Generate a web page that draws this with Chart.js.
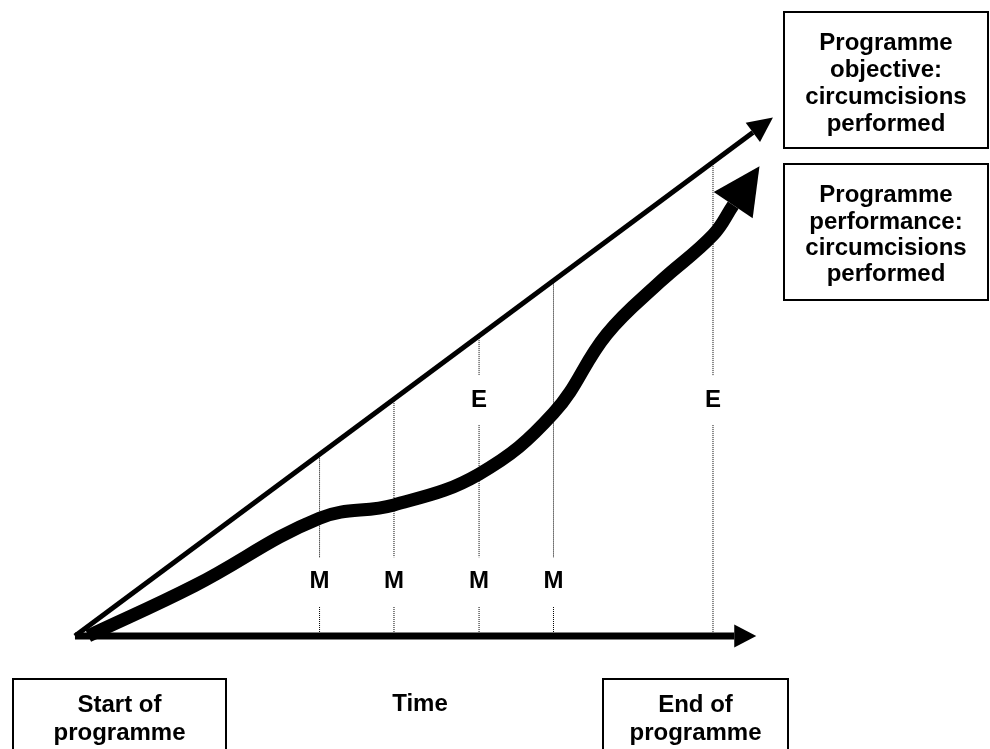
<!DOCTYPE html>
<html>
<head>
<meta charset="utf-8">
<script src="https://cdn.jsdelivr.net/npm/chart.js@4/dist/chart.umd.min.js"></script>
<style>
  html, body { margin: 0; padding: 0; background: #fff; }
  #wrap { width: 990px; height: 749px; }
</style>
</head>
<body>
<div id="wrap"><canvas id="chart" width="990" height="749"></canvas></div>
<script>
// Time in months, output as % of the objective reached at end of programme
const objectiveTimes = [0, 25.5];
const objectiveValues = [0, 106];

const performanceTimes = [0.5, 4.5, 9.2, 12.0, 15.2, 18.0, 20.0, 22.0, 24.0, 24.76];
const performanceValues = [0, 10.6, 24.8, 27.6, 34.1, 46.9, 63.5, 74.5, 84.4, 90.7];

const timeAxisTimes = [0, 24.8];
const timeAxisValues = [0, 0];

// M = monitoring, E = evaluation
const monitoringTimes = [9.2, 12.0, 15.2, 18.0];
const evaluationTimes = [15.2, 24.0];

const objectiveBoxLines = ['Programme', 'objective:', 'circumcisions', 'performed'];
const performanceBoxLines = ['Programme', 'performance:', 'circumcisions', 'performed'];
const startBoxLines = ['Start of', 'programme'];
const endBoxLines = ['End of', 'programme'];
const timeLabel = 'Time';

const FONT = 'bold 24px "Liberation Sans", Arial, sans-serif';

// value of the objective line at time t
function objectiveAt(t) {
  const k = (objectiveValues[1] - objectiveValues[0]) / (objectiveTimes[1] - objectiveTimes[0]);
  return objectiveValues[0] + k * (t - objectiveTimes[0]);
}

const toPoints = (xs, ys) => xs.map((x, i) => ({ x: x, y: ys[i] }));

// gaps left in the dotted guides for the letters
const eGap = [44.4, 54.9];
const mGap = [6.1, 16.6];

function guideSegments() {
  const times = [...new Set([...monitoringTimes, ...evaluationTimes])];
  const sets = [];
  times.forEach(t => {
    const cuts = [];
    if (evaluationTimes.includes(t)) cuts.push(eGap);
    if (monitoringTimes.includes(t)) cuts.push(mGap);
    let top = objectiveAt(t);
    cuts.forEach(g => {
      sets.push([{ x: t, y: top }, { x: t, y: g[1] }]);
      top = g[0];
    });
    sets.push([{ x: t, y: top }, { x: t, y: 0 }]);
  });
  return sets.map(d => ({
    data: d,
    borderColor: '#000',
    borderWidth: 1,
    borderDash: [1, 1],
    pointRadius: 0,
    tension: 0
  }));
}

const arrowHeads = {
  id: 'arrowHeads',
  afterDatasetsDraw(chart) {
    const ctx = chart.ctx;
    chart.data.datasets.forEach((ds, i) => {
      if (!ds.arrowHead) return;
      const pts = chart.getDatasetMeta(i).data;
      const a = pts[pts.length - 2], b = pts[pts.length - 1];
      const dx = b.x - a.x, dy = b.y - a.y;
      const len = Math.hypot(dx, dy);
      const ux = dx / len, uy = dy / len;
      const L = ds.arrowHead.length, W = ds.arrowHead.width / 2;
      ctx.save();
      ctx.fillStyle = '#000';
      ctx.beginPath();
      ctx.moveTo(b.x + ux * L, b.y + uy * L);
      ctx.lineTo(b.x - uy * W, b.y + ux * W);
      ctx.lineTo(b.x + uy * W, b.y - ux * W);
      ctx.closePath();
      ctx.fill();
      ctx.restore();
    });
  }
};

function textBlock(ctx, lines, cx, baselines) {
  lines.forEach((s, i) => ctx.fillText(s, cx, baselines[i]));
}

const annotations = {
  id: 'annotations',
  afterDraw(chart) {
    const ctx = chart.ctx;
    const xs = chart.scales.x, ys = chart.scales.y;
    ctx.save();
    ctx.fillStyle = '#000';
    ctx.strokeStyle = '#000';
    ctx.font = FONT;
    ctx.textAlign = 'center';
    ctx.textBaseline = 'middle';

    // letters on the guides
    monitoringTimes.forEach(t => ctx.fillText('M', xs.getPixelForValue(t), ys.getPixelForValue(11.4)));
    evaluationTimes.forEach(t => ctx.fillText('E', xs.getPixelForValue(t), ys.getPixelForValue(49.7)));

    // boxes
    ctx.lineWidth = 2;
    ctx.strokeRect(784, 12, 204, 136);
    ctx.strokeRect(784, 164, 204, 136);
    ctx.beginPath();
    ctx.moveTo(13, 760); ctx.lineTo(13, 679); ctx.lineTo(226, 679); ctx.lineTo(226, 760);
    ctx.moveTo(603, 760); ctx.lineTo(603, 679); ctx.lineTo(788, 679); ctx.lineTo(788, 760);
    ctx.stroke();

    ctx.textBaseline = 'alphabetic';
    textBlock(ctx, objectiveBoxLines, 886, [50, 77, 104, 131]);
    textBlock(ctx, performanceBoxLines, 886, [202, 228.5, 255, 281]);
    textBlock(ctx, startBoxLines, 119.5, [712, 740]);
    textBlock(ctx, endBoxLines, 695.5, [712, 740]);
    ctx.fillText(timeLabel, 420, 711);
    ctx.restore();
  }
};

new Chart(document.getElementById('chart'), {
  type: 'line',
  data: {
    datasets: [
      {
        label: 'Programme performance',
        data: toPoints(performanceTimes, performanceValues),
        borderColor: '#000',
        borderWidth: 13,
        borderCapStyle: 'butt',
        pointRadius: 0,
        tension: 0.4,
        arrowHead: { length: 47, width: 47 }
      },
      {
        label: 'Programme objective',
        data: toPoints(objectiveTimes, objectiveValues),
        borderColor: '#000',
        borderWidth: 5,
        pointRadius: 0,
        tension: 0,
        arrowHead: { length: 25, width: 24 }
      },
      {
        label: 'Time',
        data: toPoints(timeAxisTimes, timeAxisValues),
        borderColor: '#000',
        borderWidth: 7,
        pointRadius: 0,
        tension: 0,
        arrowHead: { length: 22, width: 23 }
      },
      ...guideSegments()
    ]
  },
  options: {
    responsive: false,
    animation: false,
    layout: { padding: 0 },
    plugins: { legend: { display: false }, tooltip: { enabled: false } },
    scales: {
      x: { type: 'linear', min: -2.82, max: 34.42, display: false },
      y: { type: 'linear', min: -23.79, max: 133.89, display: false }
    }
  },
  plugins: [arrowHeads, annotations]
});
</script>
</body>
</html>
